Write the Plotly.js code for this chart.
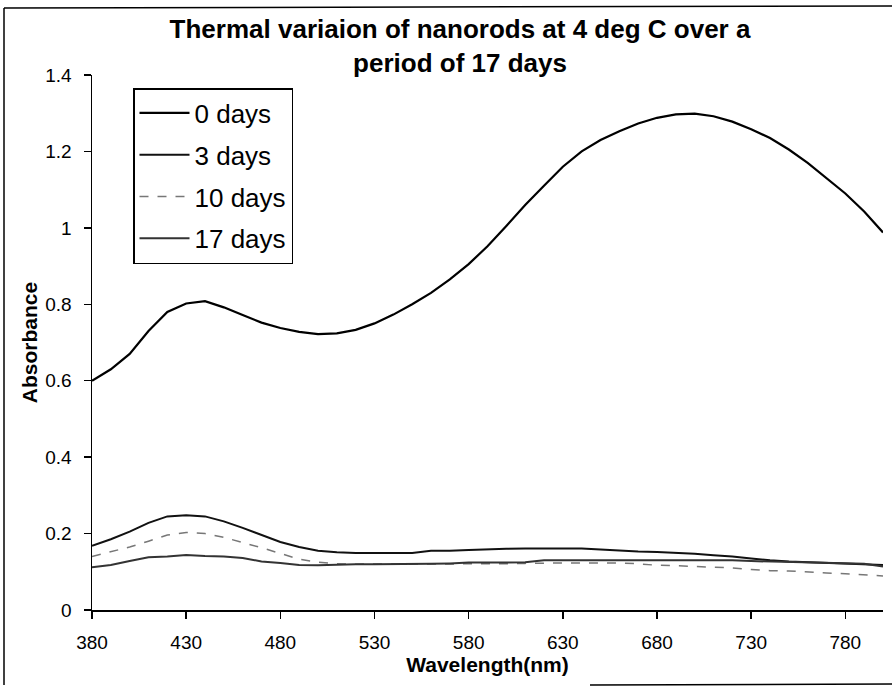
<!DOCTYPE html>
<html>
<head>
<meta charset="utf-8">
<script src="https://cdn.plot.ly/plotly-3.0.1.min.js"></script>
<style>html,body{margin:0;padding:0;background:#fff;}#chart{width:892px;height:687px;}</style>
</head>
<body>
<div id="chart"></div>
<script>
const wavelength = [380,390,400,410,420,430,440,450,460,470,480,490,500,510,520,530,540,550,560,570,580,590,600,610,620,630,640,650,660,670,680,690,700,710,720,730,740,750,760,770,780,790,800];

const days0 = [0.600,0.630,0.670,0.730,0.780,0.802,0.808,0.792,0.772,0.752,0.738,0.728,0.722,0.724,0.733,0.750,0.773,0.800,0.830,0.865,0.905,0.952,1.005,1.060,1.110,1.160,1.200,1.230,1.253,1.273,1.288,1.297,1.299,1.292,1.278,1.258,1.235,1.205,1.170,1.130,1.090,1.043,0.988];

const days3 = [0.168,0.185,0.205,0.228,0.245,0.248,0.245,0.232,0.215,0.197,0.178,0.165,0.155,0.151,0.149,0.149,0.149,0.149,0.155,0.155,0.157,0.159,0.160,0.161,0.161,0.161,0.161,0.158,0.155,0.153,0.152,0.150,0.147,0.143,0.140,0.135,0.130,0.127,0.125,0.123,0.122,0.120,0.118];

const days10 = [0.140,0.152,0.165,0.180,0.196,0.203,0.200,0.190,0.177,0.163,0.148,0.133,0.125,0.121,0.120,0.120,0.120,0.120,0.120,0.120,0.121,0.121,0.121,0.122,0.123,0.123,0.123,0.123,0.123,0.121,0.117,0.116,0.114,0.112,0.110,0.106,0.103,0.102,0.099,0.097,0.095,0.092,0.089];

const days17 = [0.112,0.118,0.128,0.138,0.140,0.144,0.141,0.140,0.136,0.127,0.123,0.118,0.117,0.119,0.120,0.120,0.120,0.120,0.121,0.122,0.124,0.124,0.124,0.125,0.130,0.130,0.130,0.130,0.130,0.130,0.130,0.130,0.130,0.130,0.130,0.128,0.127,0.126,0.125,0.123,0.122,0.121,0.114];

const seriesNames = ['0 days','3 days','10 days','17 days'];
const xTicks = [380,430,480,530,580,630,680,730,780];

const FONT = 'Liberation Sans, Arial, sans-serif';

const traces = [
  {x: wavelength, y: days0, name: seriesNames[0], legendgroup: 'g0', line: {color: '#000000', width: 2.2}},
  {x: wavelength, y: days3, name: seriesNames[1], legendgroup: 'g1', line: {color: '#111111', width: 2}},
  {x: wavelength, y: days10, name: seriesNames[2], legendgroup: 'g2', line: {color: '#777777', width: 1.5, dash: 'dash'}},
  {x: wavelength, y: days17, name: seriesNames[3], legendgroup: 'g3', line: {color: '#333333', width: 2}}
].map(t => Object.assign({type: 'scatter', mode: 'lines'}, t));

const M = {l: 92, r: 9, t: 75, b: 77};
const W = 892, H = 687;
const pw = W - M.l - M.r, ph = H - M.t - M.b;
const px = v => (v - M.l) / pw;
const py = v => (H - M.b - v) / ph;

const layout = {
  width: W, height: H,
  margin: M,
  paper_bgcolor: '#ffffff',
  plot_bgcolor: '#ffffff',
  font: {family: FONT, color: '#000000', size: 19},
  title: {
    text: '<b>Thermal variaion of nanorods at 4 deg C over a<br>period of 17 days</b>',
    font: {family: FONT, size: 26, color: '#000000'},
    x: 460 / W, xanchor: 'center', xref: 'container',
    y: 1 - 38 / H, yanchor: 'middle', yref: 'container'
  },
  xaxis: {
    range: [380, 800],
    tickvals: xTicks,
    ticks: 'outside', ticklen: 7, tickwidth: 1.5, tickcolor: '#000',
    showline: true, linecolor: '#000', linewidth: 1.5,
    showgrid: false, zeroline: false,
    ticklabelstandoff: 8,
    tickfont: {family: FONT, size: 19},
    title: {text: '<b>Wavelength(nm)</b>', font: {family: FONT, size: 21}, standoff: 4}
  },
  yaxis: {
    range: [0, 1.4],
    dtick: 0.2, tick0: 0,
    ticks: 'outside', ticklen: 7, tickwidth: 1.5, tickcolor: '#000',
    showline: true, linecolor: '#000', linewidth: 1.5,
    showgrid: false, zeroline: false,
    ticklabelstandoff: 8,
    tickfont: {family: FONT, size: 19},
    title: {text: '<b>Absorbance</b>', font: {family: FONT, size: 21}, standoff: 2}
  },
  legend: {
    x: px(133), y: py(88), xanchor: 'left', yanchor: 'top',
    bgcolor: '#ffffff', bordercolor: '#000000', borderwidth: 1.5,
    font: {family: FONT, size: 26, color: '#000'},
    tracegroupgap: 5, itemwidth: 50
  },
  shapes: [
    {type: 'line', xref: 'paper', yref: 'paper', x0: px(4), x1: px(4), y0: py(685), y1: py(8), line: {color: '#000', width: 1.5}},
    {type: 'line', xref: 'paper', yref: 'paper', x0: px(4), x1: px(892), y0: py(8), y1: py(6), line: {color: '#000', width: 1.5}},
    {type: 'line', xref: 'paper', yref: 'paper', x0: px(590), x1: px(892), y0: py(685), y1: py(684), line: {color: '#000', width: 1.5}}
  ],
  showlegend: true
};

Plotly.newPlot('chart', traces, layout, {displayModeBar: false, staticPlot: true});
</script>
</body>
</html>
